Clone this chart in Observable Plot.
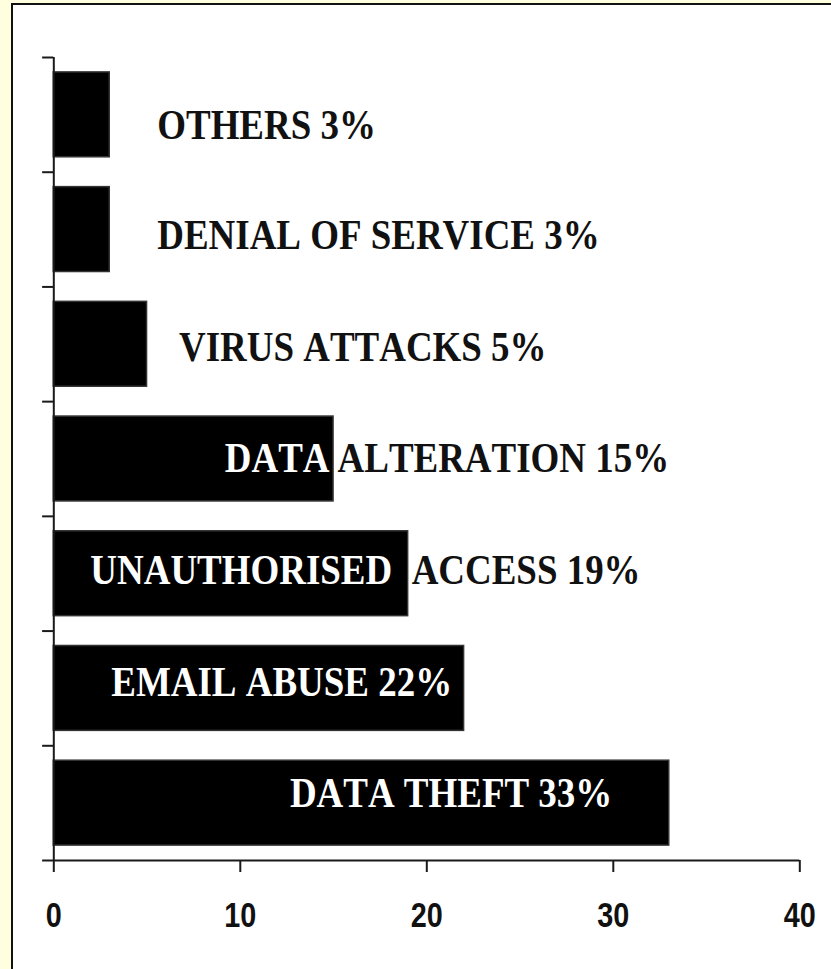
<!DOCTYPE html>
<html><head><meta charset="utf-8">
<script src="https://cdn.jsdelivr.net/npm/d3@7"></script>
<script src="https://cdn.jsdelivr.net/npm/@observablehq/plot@0.6"></script>
<style>
html,body{margin:0;padding:0;width:831px;height:969px;overflow:hidden;background:#FFFFE0;}
#box{position:absolute;left:11px;top:3px;width:900px;height:1000px;background:#fff;border:2px solid #111;box-sizing:border-box;}
#chart{position:absolute;left:0;top:0;}
#chart svg text{font-kerning:none;}
</style></head><body>
<div id="box"></div>
<div id="chart"></div>
<script>
const categories = ["OTHERS","DENIAL OF SERVICE","VIRUS ATTACKS","DATA ALTERATION","UNAUTHORISED ACCESS","EMAIL ABUSE","DATA THEFT"];
const values = [3,3,5,15,19,22,33];
const insideText = ["","","","DATA","UNAUTHORISED","EMAIL ABUSE 22%","DATA THEFT 33%"];
const outsideText = ["OTHERS 3%","DENIAL OF SERVICE 3%","VIRUS ATTACKS 5%","ALTERATION 15%","ACCESS 19%","",""];
const xTicks = [0,10,20,30,40];

// layout
const W = 831, H = 969, mT = 57, mB = 109, mL = 53.3, mR = 31.7;
const step = (H - mT - mB) / categories.length;
const insideDx = [0,0,0,-4,-16,-12,-57];
const outsideDx = [47.5,47.5,32,4,3.5,0,0];
const labelDy = [11,6,3.5,0,-3.5,-6,-10];
const axisColor = "#1a1a1a";

const data = categories.map((c,i)=>({category:c, value:values[i], inside:insideText[i], outside:outsideText[i]}));

const serif = {fontFamily:"Liberation Serif", fontWeight:"bold", fontSize:42};

const labelMarks = data.flatMap((d,i)=>[
  d.inside ? Plot.text([d], {x:"value", y:"category", text:"inside", textAnchor:"end", fill:"white", dx:insideDx[i], dy:labelDy[i], ...serif}) : null,
  d.outside ? Plot.text([d], {x:"value", y:"category", text:"outside", textAnchor:"start", fill:"#111", dx:outsideDx[i], dy:labelDy[i], ...serif}) : null
]).filter(Boolean);

const chart = Plot.plot({
  width: W, height: H,
  marginTop: mT, marginBottom: mB, marginLeft: mL, marginRight: mR,
  style: {background:"none", overflow:"visible"},
  x: {domain:[0,40], axis:null},
  y: {domain:categories, paddingInner:0.26, paddingOuter:0.13, align:0.5, round:false, axis:null},
  marks: [
    Plot.barX(data, {x:"value", y:"category", fill:"black", stroke:"#333", strokeWidth:1.5}),
    Plot.ruleX([0], {stroke:axisColor, strokeWidth:2}),
    Plot.ruleY(categories, {y:d=>d, x1:-0.6, x2:0, dy:-step/2, stroke:axisColor, strokeWidth:2}),
    Plot.ruleY([categories[categories.length-1]], {y:d=>d, x1:-0.6, x2:40, dy:step/2, stroke:axisColor, strokeWidth:2}),
    Plot.ruleX(xTicks, {x:d=>d, insetTop:H-mT-mB, insetBottom:-12, stroke:axisColor, strokeWidth:2}),
    Plot.text(xTicks, {x:d=>d, text:d=>String(d), frameAnchor:"bottom", lineAnchor:"middle", dy:55, fontFamily:"Liberation Sans", fontWeight:"bold", fontSize:36, fill:"#111"}),
    ...labelMarks
  ]
});
document.getElementById("chart").appendChild(chart);

// horizontal compression of glyphs (the source image is narrower than tall)
function squeeze(selector, s){
  chart.querySelectorAll(selector).forEach(t=>{
    const tr = t.getAttribute("transform");
    if (tr && tr.includes("translate")) {
      t.setAttribute("transform", tr + ` scale(${s},1)`);
    } else {
      const x = +t.getAttribute("x") || 0, y = +t.getAttribute("y") || 0;
      t.setAttribute("x", 0); t.setAttribute("y", 0);
      t.setAttribute("transform", `translate(${x},${y}) scale(${s},1)`);
    }
  });
}
squeeze('g[font-family="Liberation Serif"] text', 0.88);
squeeze('g[font-family="Liberation Sans"] text', 0.8);
</script>
</body></html>
